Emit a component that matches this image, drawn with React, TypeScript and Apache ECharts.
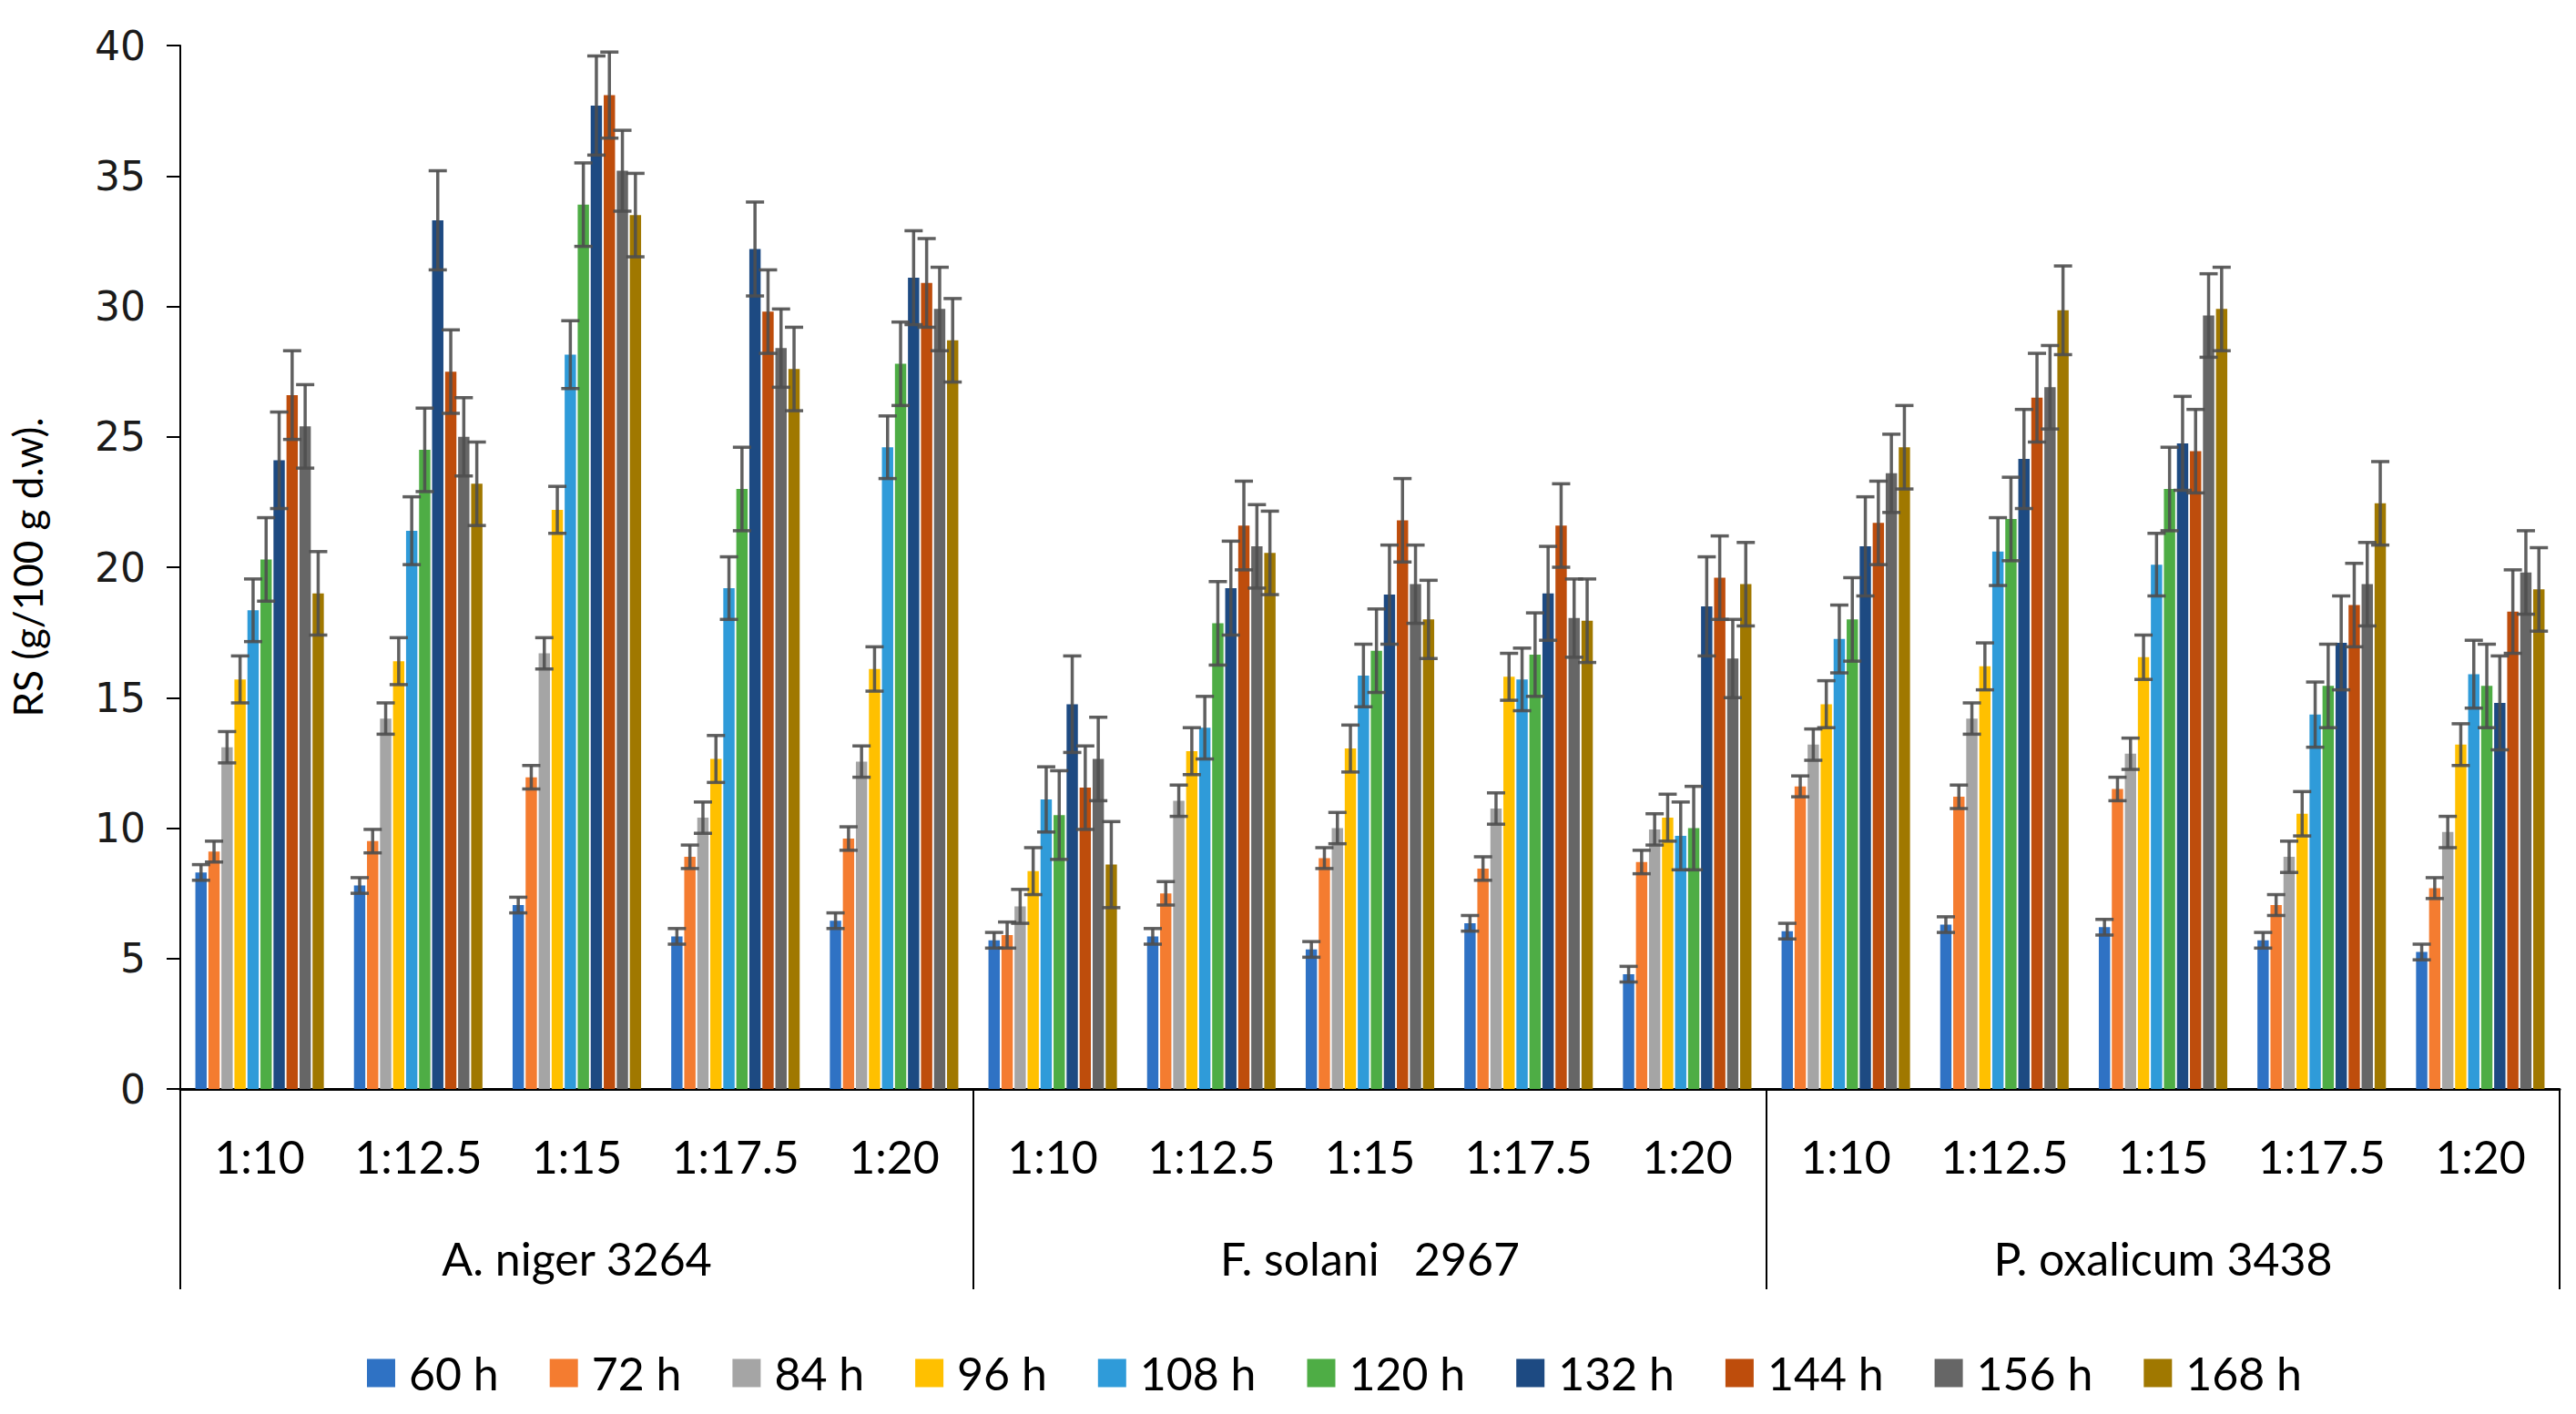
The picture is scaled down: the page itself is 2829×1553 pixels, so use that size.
import React, { useEffect, useRef } from "react";
import * as echarts from "echarts";

const ratios = ["1:10", "1:12.5", "1:15", "1:17.5", "1:20"];
const groups = ["A. niger 3264", "F. solani   2967", "P. oxalicum 3438"];
const categories = [...ratios, ...ratios, ...ratios];
const seriesNames = ["60 h", "72 h", "84 h", "96 h", "108 h", "120 h", "132 h", "144 h", "156 h", "168 h"];
const seriesColors = ["#2F72C4", "#F47C30", "#A5A5A5", "#FFC000", "#2F9BD9", "#4EAD45", "#1D4A82", "#BE4D0C", "#666666", "#A07800"];

// values: A. niger (5 ratios), F. solani (5), P. oxalicum (5)
const h60 = [8.3, 7.8, 7.05, 5.85, 6.45, 5.7, 5.85, 5.35, 6.35, 4.4, 6.05, 6.3, 6.2, 5.7, 5.25];
const h72 = [9.1, 9.5, 11.95, 8.9, 9.6, 5.9, 7.5, 8.85, 8.45, 8.7, 11.6, 11.2, 11.5, 7.05, 7.7];
const h84 = [13.1, 14.2, 16.7, 10.4, 12.55, 7.0, 11.05, 10.0, 10.75, 9.95, 13.2, 14.2, 12.85, 8.9, 9.85];
const h96 = [15.7, 16.4, 22.2, 12.65, 16.1, 8.35, 12.95, 13.05, 15.8, 10.4, 14.75, 16.2, 16.55, 10.55, 13.2];
const h108 = [18.35, 21.4, 28.15, 19.2, 24.6, 11.1, 13.85, 15.85, 15.7, 9.7, 17.25, 20.6, 20.1, 14.35, 15.9];
const h120 = [20.3, 24.5, 33.9, 23.0, 27.8, 10.5, 17.85, 16.8, 16.65, 10.0, 18.0, 21.85, 23.0, 15.45, 15.45];
const h132 = [24.1, 33.3, 37.7, 32.2, 31.1, 14.75, 19.2, 18.95, 19.0, 18.5, 20.8, 24.15, 24.75, 17.1, 14.8];
const h144 = [26.6, 27.5, 38.1, 29.8, 30.9, 11.55, 21.6, 21.8, 21.6, 19.6, 21.7, 26.5, 24.45, 18.55, 18.3];
const h156 = [25.4, 25.0, 35.2, 28.4, 29.9, 12.65, 20.8, 19.35, 18.05, 16.5, 23.6, 26.9, 29.65, 19.35, 19.8];
const h168 = [19.0, 23.2, 33.5, 27.6, 28.7, 8.6, 20.55, 18.0, 17.95, 19.35, 24.6, 29.85, 29.9, 22.45, 19.15];

// error bar half-lengths (±)
const e60 = [0.3, 0.3, 0.3, 0.3, 0.3, 0.3, 0.3, 0.3, 0.3, 0.3, 0.3, 0.3, 0.3, 0.3, 0.3];
const e72 = [0.4, 0.45, 0.45, 0.45, 0.45, 0.5, 0.45, 0.4, 0.45, 0.45, 0.4, 0.45, 0.45, 0.4, 0.4];
const e84 = [0.6, 0.6, 0.6, 0.6, 0.6, 0.65, 0.6, 0.6, 0.6, 0.6, 0.6, 0.6, 0.6, 0.6, 0.6];
const e96 = [0.9, 0.9, 0.9, 0.9, 0.85, 0.9, 0.9, 0.9, 0.9, 0.9, 0.9, 0.9, 0.85, 0.85, 0.8];
const e108 = [1.2, 1.3, 1.3, 1.2, 1.2, 1.25, 1.2, 1.2, 1.2, 1.3, 1.3, 1.3, 1.2, 1.25, 1.3];
const e120 = [1.6, 1.6, 1.6, 1.6, 1.6, 1.7, 1.6, 1.6, 1.6, 1.6, 1.6, 1.6, 1.6, 1.6, 1.6];
const e132 = [1.85, 1.9, 1.9, 1.8, 1.8, 1.85, 1.8, 1.9, 1.8, 1.9, 1.9, 1.9, 1.8, 1.8, 1.8];
const e144 = [1.7, 1.6, 1.65, 1.6, 1.7, 1.6, 1.7, 1.6, 1.6, 1.6, 1.6, 1.7, 1.6, 1.6, 1.6];
const e156 = [1.6, 1.5, 1.55, 1.5, 1.6, 1.6, 1.6, 1.5, 1.5, 1.5, 1.5, 1.6, 1.6, 1.6, 1.6];
const e168 = [1.6, 1.6, 1.6, 1.6, 1.6, 1.65, 1.6, 1.5, 1.6, 1.6, 1.6, 1.7, 1.6, 1.6, 1.6];

const values = [h60, h72, h84, h96, h108, h120, h132, h144, h156, h168];
const errors = [e60, e72, e84, e96, e108, e120, e132, e144, e156, e168];

const CAT_GAP = 0.19;
const BAR_GAP = 0.15;
const FONT = "Lato";

export default function App() {
  const ref = useRef<HTMLDivElement>(null);
  useEffect(() => {
    document.body.style.margin = "0";
    const chart = echarts.init(ref.current!, null, { renderer: "svg" });
    const N = seriesNames.length;

    const barSeries = seriesNames.map((name, si) => ({
      name,
      type: "bar",
      xAxisIndex: 0,
      data: values[si],
      barGap: `${BAR_GAP * 100}%`,
      barCategoryGap: `${CAT_GAP * 100}%`,
      itemStyle: { color: seriesColors[si] },
      z: 2,
    }));

    const errSeries = seriesNames.map((name, si) => ({
      name: name + " err",
      type: "custom",
      xAxisIndex: 0,
      z: 5,
      encode: { x: 0, y: 1 },
      data: categories.map((_, ci) => [ci, values[si][ci], errors[si][ci]]),
      renderItem: (params: any, api: any) => {
        const idx = api.value(0);
        const v = api.value(1);
        const e = api.value(2);
        const catW = api.size([1, 0])[0];
        const remain = catW * (1 - CAT_GAP);
        const bw = remain / (N + (N - 1) * BAR_GAP);
        const base = api.coord([idx, v]);
        const cx = base[0] - remain / 2 + si * bw * (1 + BAR_GAP) + bw / 2;
        const yTop = api.coord([idx, v + e])[1];
        const yBot = api.coord([idx, v - e])[1];
        const half = 10;
        const style = { stroke: "#4f4f4f", lineWidth: 3.5, opacity: 0.9 };
        return {
          type: "group",
          children: [
            { type: "line", shape: { x1: cx, y1: yTop, x2: cx, y2: yBot }, style },
            { type: "line", shape: { x1: cx - half, y1: yTop, x2: cx + half, y2: yTop }, style },
            { type: "line", shape: { x1: cx - half, y1: yBot, x2: cx + half, y2: yBot }, style },
          ],
        };
      },
    }));

    chart.setOption({
      animation: false,
      backgroundColor: "#ffffff",
      textStyle: { fontFamily: FONT },
      grid: { left: 198, right: 18, top: 50, bottom: 357, containLabel: false },
      legend: {
        data: seriesNames,
        left: 398,
        top: 1478,
        icon: "rect",
        itemWidth: 31,
        itemHeight: 31,
        itemGap: 56,
        textStyle: { fontFamily: FONT, fontSize: 50, color: "#000", padding: [0, 0, 0, 10] },
      },
      xAxis: [
        {
          type: "category",
          data: categories,
          position: "bottom",
          axisLine: { show: true, lineStyle: { color: "#000", width: 3 } },
          axisTick: { show: false },
          axisLabel: { interval: 0, fontFamily: FONT, fontSize: 50, color: "#000", margin: 49 },
        },
        {
          type: "category",
          data: groups,
          position: "bottom",
          axisLine: { show: false },
          axisTick: { show: true, length: 220, lineStyle: { color: "#000", width: 2 } },
          axisLabel: { interval: 0, fontFamily: FONT, fontSize: 50, color: "#000", margin: 161 },
        },
      ],
      yAxis: {
        type: "value",
        min: 0,
        max: 40,
        interval: 5,
        name: "RS (g/100 g d.w).",
        nameLocation: "middle",
        nameRotate: 90,
        nameGap: 146,
        nameTextStyle: { fontFamily: FONT, fontSize: 44, color: "#000" },
        axisLine: { show: true, lineStyle: { color: "#000", width: 2 } },
        axisTick: { show: true, length: 15, lineStyle: { color: "#000", width: 2 } },
        splitLine: { show: false },
        axisLabel: { fontFamily: "DejaVu Sans", fontSize: 44, color: "#1a1a1a", margin: 38 },
      },
      series: [...barSeries, ...errSeries],
    });
    return () => chart.dispose();
  }, []);
  return <div ref={ref} style={{ width: 2829, height: 1553 }} />;
}
